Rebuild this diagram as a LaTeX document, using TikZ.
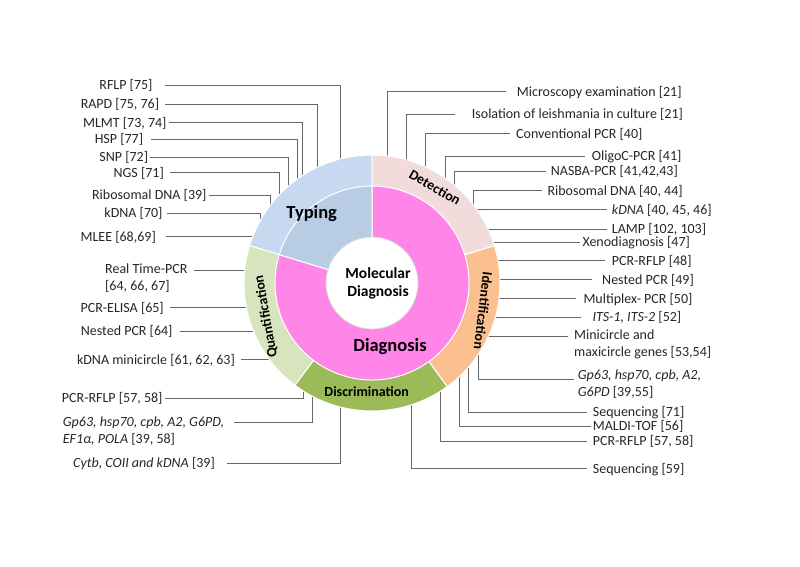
\documentclass[tikz,border=0pt]{standalone}
\usepackage{fontspec}
\setmainfont{Carlito}
\definecolor{typout}{RGB}{198,217,240}
\definecolor{typin}{RGB}{184,204,228}
\definecolor{detect}{RGB}{242,220,219}
\definecolor{ident}{RGB}{250,192,144}
\definecolor{discr}{RGB}{155,187,89}
\definecolor{quant}{RGB}{215,228,189}
\definecolor{diagn}{RGB}{255,134,232}
\begin{document}
\begin{tikzpicture}[x=1pt,y=-1pt,
    lbl/.style={font=\fontsize{14}{17}\selectfont, text=black!85, inner sep=2pt, text height=10pt, text depth=1pt},
    blk/.style={font=\fontsize{14}{17}\selectfont, text=black!85, inner sep=2pt, align=left},
    lead/.style={draw=black!60, line width=0.9pt},
    seg/.style={draw=white, line width=1pt},
    ringtxt/.style={font=\bfseries\fontsize{14}{16}\selectfont}]
                \useasboundingbox (0,0) rectangle (800,566);
                \coordinate (ctr) at (372,283);
                \node[lbl, anchor=east] (rflp) at (154.7,85) {RFLP [75]};
                \node[lbl, anchor=east] (rapd) at (161.3,104) {RAPD [75, 76]};
                \node[lbl, anchor=east] (mlmt) at (168.7,122.5) {MLMT [73, 74]};
                \node[lbl, anchor=east] (hsp) at (145.3,139) {HSP [77]};
                \node[lbl, anchor=east] (snp) at (150.3,157.3) {SNP [72]};
                \node[lbl, anchor=east] (ngs) at (166,172.5) {NGS [71]};
                \node[lbl, anchor=east] (riboL) at (208.7,195) {Ribosomal DNA [39]};
                \node[lbl, anchor=east] (kdnaL) at (164.7,213.3) {kDNA [70]};
                \node[lbl, anchor=east] (mlee) at (158,236.7) {MLEE [68,69]};
                \node[blk, anchor=north west] (rtpcr) at (103,261.5) {Real Time-PCR\\{[64, 66, 67]}};
                \node[lbl, anchor=east] (elisa) at (166,307.5) {PCR-ELISA [65]};
                \node[lbl, anchor=east] (nestL) at (174.7,331) {Nested PCR [64]};
                \node[lbl, anchor=east] (kmini) at (237,359.5) {kDNA minicircle [61, 62, 63]};
                \node[lbl, anchor=east] (rflpL) at (164.7,398) {PCR-RFLP [57, 58]};
                \node[blk, anchor=north west] (gpL) at (60.7,414.2) {\textit{Gp63, hsp70, cpb, A2, G6PD,}\\\textit{EF1α, POLA} [39, 58]};
                \node[lbl, anchor=east] (cytb) at (217,463) {\textit{Cytb, COII and kDNA} [39]};
                \node[lbl, anchor=west] (micro) at (514.7,91.5) {Microscopy examination [21]};
                \node[lbl, anchor=west] (iso) at (469.7,114) {Isolation of leishmania in culture [21]};
                \node[lbl, anchor=west] (conv) at (514,133.5) {Conventional PCR [40]};
                \node[lbl, anchor=west] (oligo) at (589.7,156) {OligoC-PCR [41]};
                \node[lbl, anchor=west] (nasba) at (548.7,171) {NASBA-PCR [41,42,43]};
                \node[lbl, anchor=west] (riboR) at (545.3,190.5) {Ribosomal DNA [40, 44]};
                \node[lbl, anchor=west] (kdnaR) at (609.7,209.5) {\textit{kDNA} [40, 45, 46]};
                \node[lbl, anchor=west] (lamp) at (609.7,229) {LAMP [102, 103]};
                \node[lbl, anchor=west] (xeno) at (580.3,242) {Xenodiagnosis [47]};
                \node[lbl, anchor=west] (rflpI) at (609.7,260.5) {PCR-RFLP [48]};
                \node[lbl, anchor=west] (nestR) at (600,279.5) {Nested PCR [49]};
                \node[lbl, anchor=west] (multi) at (581.3,298.5) {Multiplex- PCR [50]};
                \node[lbl, anchor=west] (its) at (590.3,317) {\textit{ITS-1, ITS-2} [52]};
                \node[blk, anchor=north west] (mini) at (572,327.5) {Minicircle and\\maxicircle genes [53,54]};
                \node[blk, anchor=north west] (gpR) at (575.7,367.5) {\textit{Gp63, hsp70, cpb, A2,}\\\textit{G6PD} [39,55]};
                \node[lbl, anchor=west] (seqA) at (590.7,412) {Sequencing [71]};
                \node[lbl, anchor=west] (maldi) at (590.7,426) {MALDI-TOF [56]};
                \node[lbl, anchor=west] (rflpD) at (590.7,441) {PCR-RFLP [57, 58]};
                \node[lbl, anchor=west] (seqB) at (590.7,468.5) {Sequencing [59]};
                \coordinate (Erflp) at (340.7,165);
                \coordinate (Erapd) at (317.3,172);
                \coordinate (Emlmt) at (302.3,181);
                \coordinate (Ehsp) at (297.3,185);
                \coordinate (Esnp) at (288.5,192);
                \coordinate (Engs) at (279.3,200);
                \coordinate (EriboL) at (270,212);
                \coordinate (EkdnaL) at (260.7,226);
                \coordinate (Emlee) at (258,236.7);
                \coordinate (Ertpcr) at (252,270.5);
                \coordinate (Eelisa) at (252,307.5);
                \coordinate (EnestL) at (260,331);
                \coordinate (Ekmini) at (276,359.5);
                \coordinate (ErflpL) at (303,385);
                \coordinate (EgpL) at (312,390);
                \coordinate (Ecytb) at (340.7,400);
                \coordinate (Emicro) at (387.3,162);
                \coordinate (Eiso) at (406.7,166);
                \coordinate (Econv) at (425.7,172);
                \coordinate (Eoligo) at (445,184);
                \coordinate (Enasba) at (454,190);
                \coordinate (EriboR) at (473.3,210);
                \coordinate (EkdnaR) at (472,209.5);
                \coordinate (Elamp) at (482,229);
                \coordinate (Exeno) at (488,242);
                \coordinate (ErflpI) at (492,260.5);
                \coordinate (EnestR) at (494,279.5);
                \coordinate (Emulti) at (494,298.5);
                \coordinate (Eits) at (490,317);
                \coordinate (Emini) at (485,336.5);
                \coordinate (EgpR) at (478.3,349);
                \coordinate (EseqA) at (468.7,361);
                \coordinate (Emaldi) at (459.3,371);
                \coordinate (ErflpD) at (440,386);
                \coordinate (EseqB) at (411.7,399);
                \draw[lead, shorten <=10pt] (rflp.east) -| (Erflp);
                \draw[lead, shorten <=4pt] (rapd.east) -| (Erapd);
                \draw[lead] (mlmt.east) -| (Emlmt);
                \draw[lead, shorten <=6pt] (hsp.east) -| (Ehsp);
                \draw[lead] (snp.east) -| (Esnp);
                \draw[lead, shorten <=4pt] (ngs.east) -| (Engs);
                \draw[lead] (riboL.east) -| (EriboL);
                \draw[lead, shorten <=2pt] (kdnaL.east) -| (EkdnaL);
                \draw[lead, shorten <=8pt] (mlee.east) -- (Emlee);
                \draw[lead, shorten <=4pt] (rtpcr.east |- Ertpcr) -- (Ertpcr);
                \draw[lead, shorten <=4pt] (elisa.east) -- (Eelisa);
                \draw[lead, shorten <=5pt] (nestL.east) -- (EnestL);
                \draw[lead, shorten <=4pt] (kmini.east) -- (Ekmini);
                \draw[lead] (rflpL.east) -| (ErflpL);
                \draw[lead, shorten <=8pt] (gpL.east |- 0,422.5) -| (EgpL);
                \draw[lead, shorten <=10pt] (cytb.east) -| (Ecytb);
                \draw[lead, shorten <=9pt] (micro.west) -| (Emicro);
                \draw[lead, shorten <=15pt] (iso.west) -| (Eiso);
                \draw[lead, shorten <=4pt] (conv.west) -| (Econv);
                \draw[lead, shorten <=5pt] (oligo.west) -| (Eoligo);
                \draw[lead, shorten <=3pt] (nasba.west) -| (Enasba);
                \draw[lead, shorten <=3pt] (riboR.west) -| (EriboR);
                \draw[lead, shorten <=3pt] (kdnaR.west) -- (EkdnaR);
                \draw[lead, shorten <=3pt] (lamp.west) -- (Elamp);
                \draw[lead] (xeno.west) -- (Exeno);
                \draw[lead, shorten <=5pt] (rflpI.west) -- (ErflpI);
                \draw[lead, shorten <=8pt] (nestR.west) -- (EnestR);
                \draw[lead, shorten <=5pt] (multi.west) -- (Emulti);
                \draw[lead, shorten <=9pt] (its.west) -- (Eits);
                \draw[lead, shorten <=4pt] (mini.west |- Emini) -- (Emini);
                \draw[lead, shorten <=2pt] (gpR.west |- 0,379.3) -| (EgpR);
                \draw[lead, shorten <=4pt] (seqA.west) -| (EseqA);
                \draw[lead] (maldi.west) -| (Emaldi);
                \draw[lead, shorten <=4pt] (rflpD.west) -| (ErflpD);
                \draw[lead, shorten <=4pt] (seqB.west) -| (EseqB);
                \filldraw[seg, fill=typout] (ctr) -- ++(90:128pt) arc[start angle=90, end angle=163, radius=128pt] -- cycle;
                \filldraw[seg, fill=quant] (ctr) -- ++(163:128pt) arc[start angle=163, end angle=233, radius=128pt] -- cycle;
                \filldraw[seg, fill=discr] (ctr) -- ++(233:128pt) arc[start angle=233, end angle=306, radius=128pt] -- cycle;
                \filldraw[seg, fill=ident] (ctr) -- ++(306:128pt) arc[start angle=306, end angle=377, radius=128pt] -- cycle;
                \filldraw[seg, fill=detect] (ctr) -- ++(17:128pt) arc[start angle=17, end angle=90, radius=128pt] -- cycle;
                \filldraw[seg, fill=diagn] (ctr) -- ++(163:97pt) arc[start angle=163, end angle=450, radius=97pt] -- cycle;
                \filldraw[seg, fill=typin] (ctr) -- ++(90:97pt) arc[start angle=90, end angle=163, radius=97pt] -- cycle;
                \filldraw[fill=white, draw=black!15, line width=0.8pt] (ctr) circle[radius=46pt];
                \node[font=\bfseries\fontsize{15.5}{18}\selectfont, align=center] (mol) at (378,283) {Molecular\\Diagnosis};
                \node[font=\bfseries\fontsize{18.5}{20}\selectfont] (typ) at (311.7,213.3) {Typing};
                \node[font=\bfseries\fontsize{18.5}{20}\selectfont] (dgn) at (390,346.7) {Diagnosis};
                \node[ringtxt, rotate=-30] (det) at (435,187.3) {Detection};
                \node[ringtxt, rotate=-97] (idf) at (483.3,310.7) {Identification};
                \node[ringtxt] (dsc) at (366.7,391.7) {Discrimination};
                \node[ringtxt, rotate=100] (qnt) at (266,316.7) {Quantification};
            \end{tikzpicture}
\end{document}
